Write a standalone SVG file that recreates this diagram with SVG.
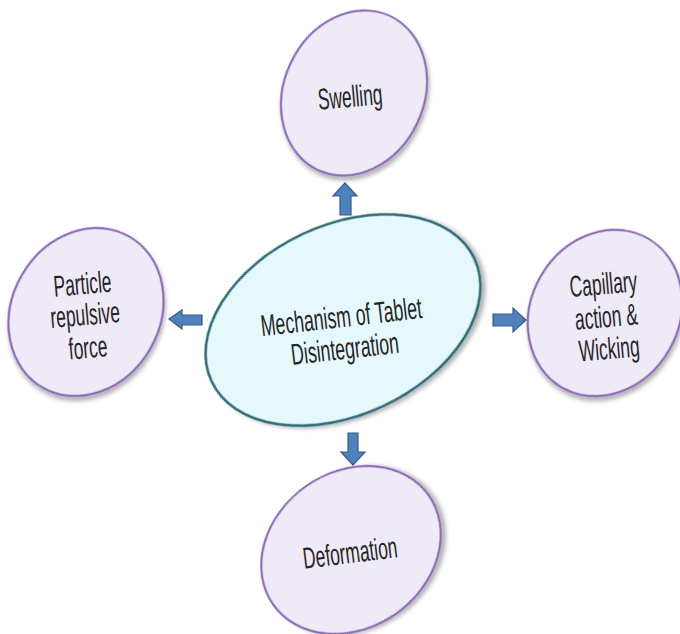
<svg xmlns="http://www.w3.org/2000/svg" width="680" height="634" viewBox="0 0 680 634">
<defs>
<filter id="sh" x="-20%" y="-20%" width="140%" height="140%">
<feDropShadow dx="3" dy="3" stdDeviation="2" flood-color="#000" flood-opacity="0.3"/>
</filter>
<style>
.outer{fill:#efeaf7;stroke:#8a68b6;stroke-width:2.2;filter:url(#sh)}
.core{fill:#e5f8fc;stroke:#2f6c78;stroke-width:2.6;filter:url(#sh)}
.arr{fill:#4f81bd;stroke:#385d8a;stroke-width:1.2}
.t{font-family:"Liberation Sans",Arial,sans-serif;font-size:30px;fill:#262626;text-anchor:middle}
</style>
</defs>
<rect width="680" height="634" fill="#fff"/>
<g id="connectors">
<polygon class="arr" points="345,183 357,196 351,196 351,215 340,215 340,196 333,196"/>
<polygon class="arr" points="169,319 182,310 182,315 202,315 202,325 182,325 182,329"/>
<polygon class="arr" points="526,320 513,308 513,314 493,314 493,326 513,326 513,332"/>
<polygon class="arr" points="353,465 365,452 358,452 358,433 348,433 348,452 341,452"/>
</g>
<g id="center">
<ellipse class="core" cx="0" cy="0" rx="145" ry="95" transform="translate(343,320) rotate(-25)"/>
<g transform="translate(343,332) rotate(-6.5) scale(0.59,1)">
<text class="t" x="0" y="-5">Mechanism of Tablet</text>
<text class="t" x="0" y="27">Disintegration</text>
</g>
</g>
<g id="swelling">
<ellipse class="outer" cx="0" cy="0" rx="70" ry="85" transform="translate(354,93) rotate(25)"/>
<g transform="translate(350,96) rotate(-5) scale(0.58,1)">
<text class="t" x="0" y="11">Swelling</text>
</g>
</g>
<g id="particle">
<ellipse class="outer" cx="0" cy="0" rx="74" ry="87" transform="translate(86,312) rotate(30)"/>
<g transform="translate(86,325) rotate(-5) scale(0.58,1)">
<text class="t" x="0" y="-31">Particle</text>
<text class="t" x="0" y="0">repulsive</text>
<text class="t" x="0" y="33">force</text>
</g>
</g>
<g id="capillary">
<ellipse class="outer" cx="0" cy="0" rx="74" ry="86" transform="translate(605,313) rotate(30)"/>
<g transform="translate(607,325) rotate(-5) scale(0.58,1)">
<text class="t" x="0" y="-31">Capillary</text>
<text class="t" x="0" y="2">action &amp;</text>
<text class="t" x="0" y="34">Wicking</text>
</g>
</g>
<g id="deformation">
<ellipse class="outer" cx="0" cy="0" rx="95" ry="78" transform="translate(351,550) rotate(-35)"/>
<g transform="translate(350,552) rotate(-7) scale(0.58,1)">
<text class="t" x="0" y="11">Deformation</text>
</g>
</g>
</svg>
